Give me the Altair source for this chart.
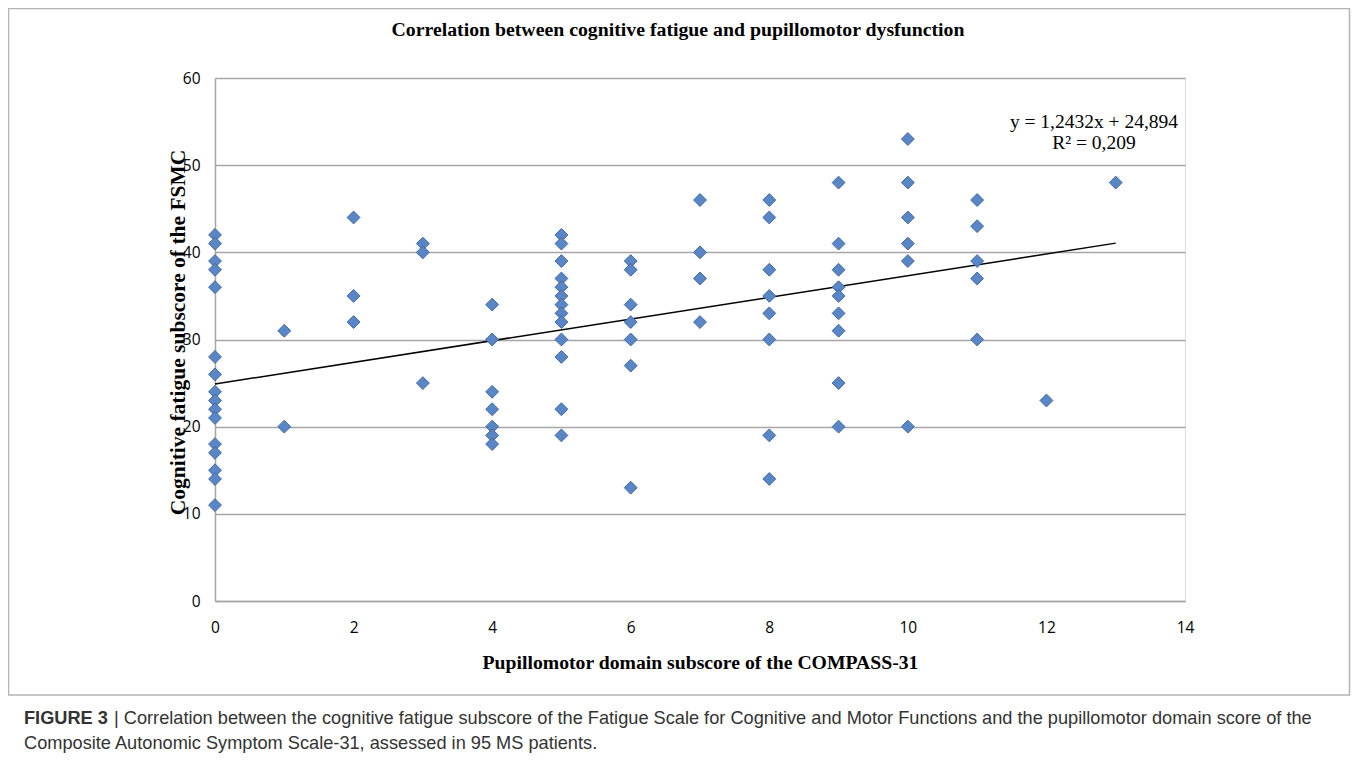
import altair as alt
import pandas as pd

# ---- data ----
pupillomotor_levels = [0, 1, 2, 3, 4, 5, 6, 7, 8, 9, 10, 11, 12, 13]
fatigue_at_level = [
    [42, 41, 39, 38, 36, 28, 26, 24, 23, 22, 21, 18, 17, 15, 14, 11],
    [31, 20],
    [44, 35, 32],
    [41, 40, 25],
    [34, 30, 24, 22, 20, 19, 18],
    [42, 41, 39, 37, 36, 35, 34, 33, 32, 30, 28, 22, 19],
    [39, 38, 34, 32, 30, 27, 13],
    [46, 40, 37, 32],
    [46, 44, 38, 35, 33, 30, 19, 14],
    [48, 41, 38, 36, 35, 33, 31, 25, 20],
    [53, 48, 44, 41, 39, 20],
    [46, 43, 39, 37, 30],
    [23],
    [48],
]
trend_slope = 1.2432
trend_intercept = 24.894
trend_x = [0, 13]
x_ticks = [0, 2, 4, 6, 8, 10, 12, 14]
y_ticks = [0, 10, 20, 30, 40, 50, 60]

title_text = "Correlation between cognitive fatigue and pupillomotor dysfunction"
x_title = "Pupillomotor domain subscore of the COMPASS-31"
y_title = "Cognitive fatigue subscore of the FSMC"
eq_line1 = "y = 1,2432x + 24,894"
eq_line2 = "R² = 0,209"
caption_bold = "FIGURE 3"
caption_line1 = ("| Correlation between the cognitive fatigue subscore of the Fatigue Scale "
                 "for Cognitive and Motor Functions and the pupillomotor domain score of the")
caption_line2 = "Composite Autonomic Symptom Scale-31, assessed in 95 MS patients."

rows = [{"x": lv, "y": v} for lv, vals in zip(pupillomotor_levels, fatigue_at_level) for v in vals]
pts = pd.DataFrame(rows)
trend = pd.DataFrame({"x": trend_x, "y": [trend_intercept + trend_slope * v for v in trend_x]})
one = alt.Data(values=[{"k": 1}])

xscale = alt.Scale(domain=[0, 14], nice=False)
yscale = alt.Scale(domain=[0, 60], nice=False)

x_axis = alt.Axis(
    values=x_ticks, format="d", grid=False, ticks=False,
    domainColor="#a6a6a6", domainWidth=1.5,
    labelFont="Open Sans", labelFontSize=15.5, labelColor="#000000",
    labelPadding=19, labelFlush=False,
    title=x_title, titleFont="Liberation Serif", titleFontSize=19.7,
    titleFontWeight="bold", titleColor="black",
    titleX=485, titleY=67, titleAlign="center", titleBaseline="alphabetic",
)
y_axis = alt.Axis(
    values=y_ticks, format="d", grid=True, gridColor="#a6a6a6", gridWidth=1.5, ticks=False,
    domainColor="#a6a6a6", domainWidth=1.5,
    labelFont="Open Sans", labelFontSize=15.5, labelColor="#000000",
    labelPadding=15,
    title=y_title, titleFont="Liberation Serif", titleFontSize=21.5,
    titleFontWeight="bold", titleColor="black", titleAngle=270,
    titleX=-31, titleY=254, titleAlign="center", titleBaseline="alphabetic",
)

points = alt.Chart(pts).mark_point(
    shape="diamond", filled=True, size=165, fill="#5B86C5",
    stroke="#4069A6", strokeWidth=1, opacity=1,
).encode(
    x=alt.X("x:Q", scale=xscale, axis=x_axis),
    y=alt.Y("y:Q", scale=yscale, axis=y_axis),
)

line = alt.Chart(trend).mark_line(color="black", strokeWidth=1.5).encode(
    x=alt.X("x:Q", scale=xscale),
    y=alt.Y("y:Q", scale=yscale),
)

box = alt.Chart(one).mark_rect(fillOpacity=0, stroke="#b4b4b4", strokeWidth=1.5).encode(
    x=alt.value(-206.5), x2=alt.value(1134.5), y=alt.value(-69.5), y2=alt.value(617)
)

title = alt.Chart(one).mark_text(
    font="Liberation Serif", fontSize=19.8, fontWeight="bold", color="black",
    align="center", baseline="middle"
).encode(x=alt.value(463), y=alt.value(-48), text=alt.value(title_text))

eq1 = alt.Chart(one).mark_text(
    font="Liberation Serif", fontSize=19.5, color="black", align="center", baseline="middle"
).encode(x=alt.value(879), y=alt.value(44), text=alt.value(eq_line1))
eq2 = alt.Chart(one).mark_text(
    font="Liberation Serif", fontSize=19.5, color="black", align="center", baseline="middle"
).encode(x=alt.value(879), y=alt.value(65), text=alt.value(eq_line2))

cap_b = alt.Chart(one).mark_text(
    font="Liberation Sans", fontSize=18.2, fontWeight="bold", color="#333333",
    align="left", baseline="middle"
).encode(x=alt.value(-191), y=alt.value(641), text=alt.value(caption_bold))
cap_1 = alt.Chart(one).mark_text(
    font="Liberation Sans", fontSize=18.2, color="#333333", align="left", baseline="middle"
).encode(x=alt.value(-101), y=alt.value(641), text=alt.value(caption_line1))
cap_2 = alt.Chart(one).mark_text(
    font="Liberation Sans", fontSize=18.2, color="#333333", align="left", baseline="middle"
).encode(x=alt.value(-191), y=alt.value(666), text=alt.value(caption_line2))

chart = alt.layer(box, line, points, title, eq1, eq2, cap_b, cap_1, cap_2).properties(
    width=970, height=523,
    autosize=alt.AutoSizeParams(type="none"),
    padding={"left": 207, "top": 70, "right": 166, "bottom": 155},
).configure_view(stroke=None).configure(background="white")

chart.save("out.html", embed_options={"renderer": "svg", "actions": False})
